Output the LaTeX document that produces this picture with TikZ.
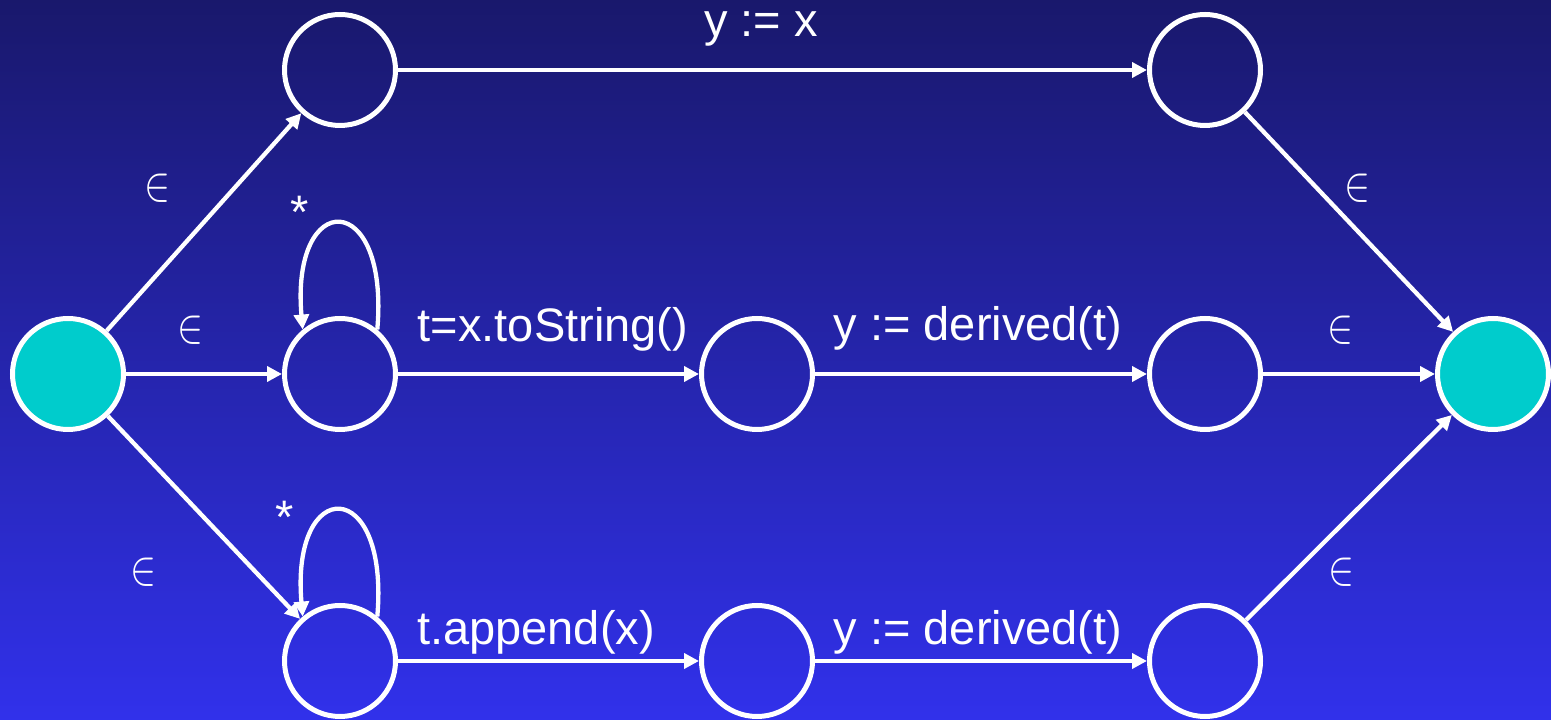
\documentclass[tikz,border=0pt]{standalone}
\usepackage{fontspec}
\setmainfont{Liberation Sans}
\usetikzlibrary{arrows.meta}
\definecolor{bgtop}{RGB}{25,24,108}
\definecolor{bgbot}{RGB}{49,49,235}
\definecolor{teal}{RGB}{0,204,204}
\newcommand{\epsym}{\scalebox{3.9}[4.9]{$\in$}}
\begin{document}
\begin{tikzpicture}[x=1pt,y=1pt,
  state/.style={circle,draw=white,line width=5pt,minimum size=111pt,inner sep=0pt},
  final/.style={state,fill=teal},
  edge/.style={draw=white,line width=4.3pt,-{Triangle[length=15pt,width=15pt]}},
  lbl/.style={text=white,font=\fontsize{47}{56}\selectfont,anchor=base,inner sep=0pt},
  eps/.style={text=white,inner sep=0pt}]
\useasboundingbox (0,0) rectangle (1551,720);
\shade[top color=bgtop,bottom color=bgbot] (0,0) rectangle (1551,720);
\node[final] (s) at (68,346) {};
\node[final] (e) at (1493,346) {};
\node[state] (a1) at (340,650) {};
\node[state] (a2) at (1205,650) {};
\node[state] (b1) at (340,346) {};
\node[state] (b2) at (757,346) {};
\node[state] (b3) at (1205,346) {};
\node[state] (c1) at (340,59) {};
\node[state] (c2) at (757,59) {};
\node[state] (c3) at (1205,59) {};
\path[edge] (s) -- (a1);
\path[edge] (s) -- (b1);
\path[edge] (s) -- (c1);
\path[edge] (a1) -- (a2);
\path[edge] (b1) -- (b2);
\path[edge] (b2) -- (b3);
\path[edge] (c1) -- (c2);
\path[edge] (c2) -- (c3);
\path[edge] (a2) -- (e);
\path[edge] (b3) -- (e);
\path[edge] (c3) -- (e);
\path[edge] (b1.50) .. controls +(85:142) and +(95:142) .. (b1.130);
\path[edge] (c1.50) .. controls +(85:142) and +(95:142) .. (c1.130);
\node[lbl] (l1) at (761,683) {y := x};
\node[lbl] (l2) at (553,378) {t=x.toString()};
\node[lbl] (l3) at (978,379) {y := derived(t)};
\node[lbl] (l4) at (536,75) {t.append(x)};
\node[lbl] (l5) at (978,75) {y := derived(t)};
\node[lbl,anchor=center] (st1) at (300,508) {*};
\node[lbl,anchor=center] (st2) at (285,203) {*};
\node[eps] (e1) at (157,532) {\epsym};
\node[eps] (e2) at (190,390) {\epsym};
\node[eps] (e3) at (143,148) {\epsym};
\node[eps] (e4) at (1357,532) {\epsym};
\node[eps] (e5) at (1340,390) {\epsym};
\node[eps] (e6) at (1341,148) {\epsym};
\end{tikzpicture}
\end{document}
